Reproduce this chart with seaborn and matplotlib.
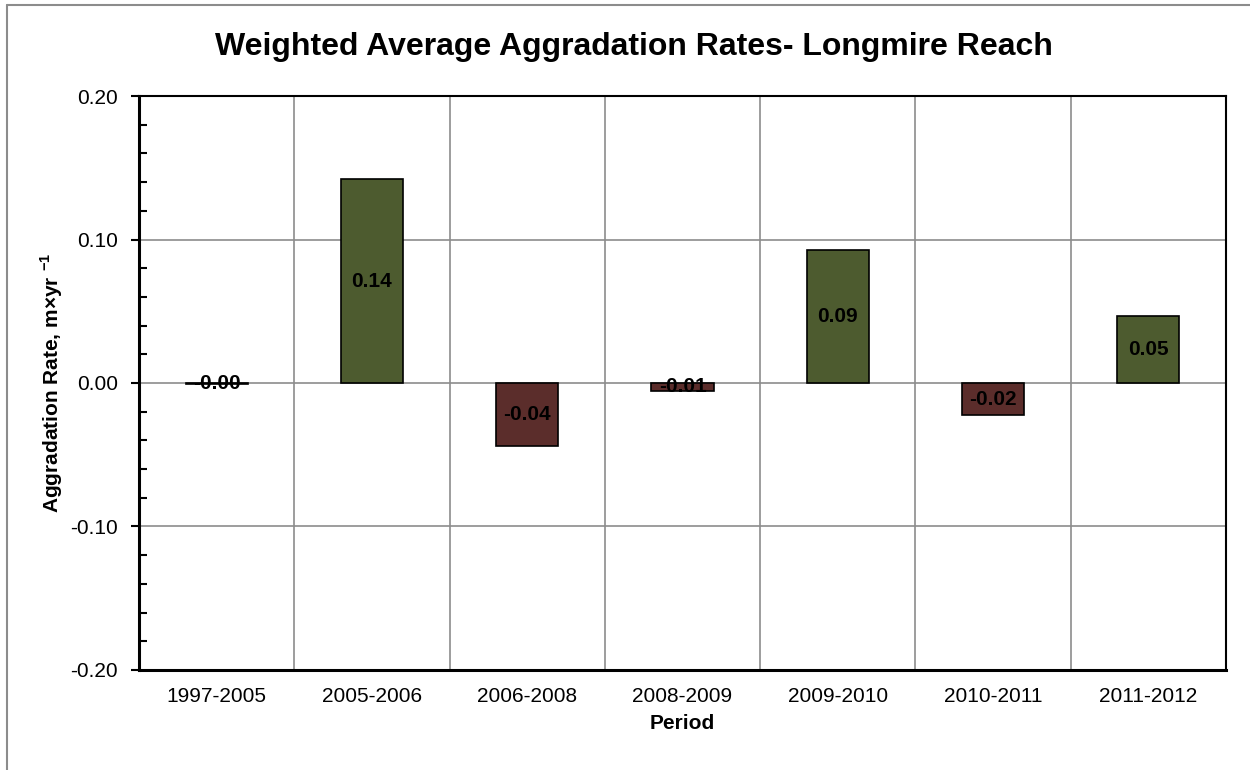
import numpy as np
import pandas as pd
import matplotlib
matplotlib.use('Agg')
import matplotlib.pyplot as plt
from matplotlib.lines import Line2D
from matplotlib.ticker import MultipleLocator, FormatStrFormatter
import seaborn as sns

periods = ['1997-2005', '2005-2006', '2006-2008', '2008-2009', '2009-2010', '2010-2011', '2011-2012']
rates = [-0.001, 0.142, -0.044, -0.0055, 0.093, -0.0225, 0.047]
labels = ['-0.00', '0.14', '-0.04', '-0.01', '0.09', '-0.02', '0.05']

df = pd.DataFrame({'Period': periods, 'Rate': rates})
df['Sign'] = np.where(df['Rate'] >= 0, 'pos', 'neg')

sns.set_style('white')
plt.rcParams['font.family'] = ['Liberation Sans', 'DejaVu Sans']
plt.rcParams['text.color'] = 'black'
plt.rcParams['axes.labelcolor'] = 'black'
plt.rcParams['xtick.color'] = 'black'
plt.rcParams['ytick.color'] = 'black'
plt.rcParams['mathtext.fontset'] = 'custom'
plt.rcParams['mathtext.rm'] = 'Liberation Sans'
plt.rcParams['mathtext.bf'] = 'Liberation Sans:bold'

fig = plt.figure(figsize=(12.5, 7.7), dpi=100)
ax = fig.add_axes([0.1112, 0.1299, 0.8696, 0.7454])

sns.barplot(data=df, x='Period', y='Rate', hue='Sign',
            palette={'pos': '#4F6228', 'neg': '#632523'},
            dodge=False, width=0.4, edgecolor='black', linewidth=1.2,
            legend=False, ax=ax, zorder=3)

ax.set_ylim(-0.2, 0.2)
ax.set_xlim(-0.5, len(periods) - 0.5)
ax.yaxis.set_major_locator(MultipleLocator(0.1))
ax.yaxis.set_minor_locator(MultipleLocator(0.02))
ax.yaxis.set_major_formatter(FormatStrFormatter('%.2f'))

# gridlines: horizontal at majors, vertical at category boundaries
for y in [-0.1, 0.0, 0.1]:
    ax.axhline(y, color='#8c8c8c', lw=1.2, zorder=1)
for xb in np.arange(0.5, len(periods) - 0.5, 1):
    ax.axvline(xb, color='#8c8c8c', lw=1.2, zorder=1)

ax.set_xticks(range(len(periods)))
ax.set_xticklabels(periods)
ax.tick_params(axis='x', length=0, labelsize=15, pad=12)
ax.set_xticks(np.arange(-0.5, len(periods), 1), minor=True)
ax.tick_params(axis='x', which='minor', direction='out', length=6, width=1.5, color='black')
ax.tick_params(axis='y', which='major', direction='out', length=6, width=1.5, labelsize=15, left=True, pad=9)
ax.tick_params(axis='y', which='minor', direction='in', length=6, width=1.5, left=True)

for sp in ['left', 'bottom']:
    ax.spines[sp].set_linewidth(2.2)
    ax.spines[sp].set_color('black')
for sp in ['top', 'right']:
    ax.spines[sp].set_linewidth(1.5)
    ax.spines[sp].set_color('black')

for i, (v, t) in enumerate(zip(rates, labels)):
    ax.text(i, v / 2, t, ha='center', va='center', fontsize=15,
            fontweight='bold', color='black', zorder=5)

ax.set_xlabel('Period', fontsize=15, fontweight='bold', labelpad=6)
ax.set_ylabel(r'Aggradation Rate, m×yr $^{\mathbf{-1}}$', fontsize=15,
              fontweight='bold')
ax.yaxis.set_label_coords(-0.068, 0.5)
fig.text(0.507, 0.939, 'Weighted Average Aggradation Rates- Longmire Reach',
         ha='center', va='center', fontsize=23, fontweight='bold')

# chart area border (left and top visible)
fig.add_artist(Line2D([7 / 1250, 7 / 1250], [0, 1 - 5 / 770], color='#8c8c8c', lw=1.5))
fig.add_artist(Line2D([7 / 1250, 1], [1 - 5 / 770, 1 - 5 / 770], color='#8c8c8c', lw=1.5))

fig.savefig('out.png', dpi=100)
